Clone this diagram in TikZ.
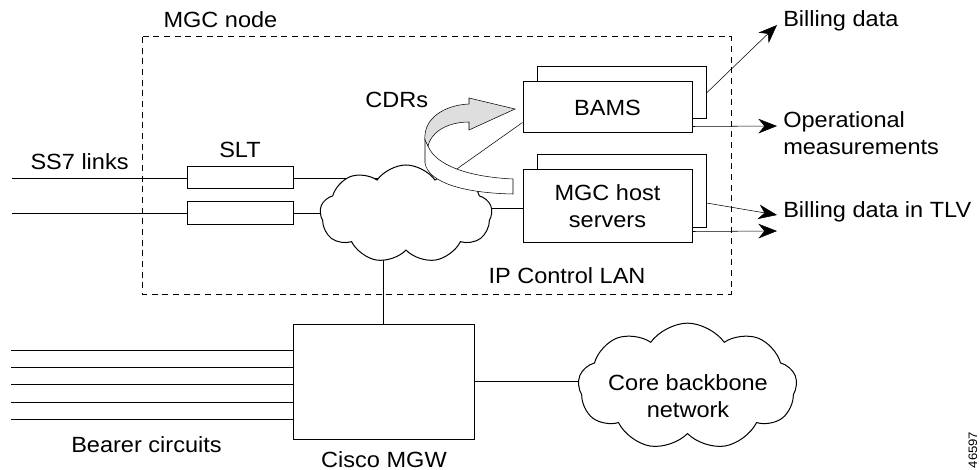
\documentclass[tikz,border=0pt]{standalone}
\usepackage{fontspec}
\setmainfont{Liberation Sans}[FakeStretch=1.07]
\usetikzlibrary{shapes.symbols,arrows.meta}
\pgfdeclarelayer{background}
\pgfsetlayers{background,main}
\begin{document}
\begin{tikzpicture}[x=0.75pt,y=-0.75pt,
  font=\fontsize{16.5}{20.25}\selectfont,
  line width=0.75pt,
  box/.style={draw,fill=white,inner sep=0pt,minimum width=126.75pt},
  sltbox/.style={draw,fill=white,inner sep=0pt,minimum width=79.5pt,minimum height=16.5pt},
  netcloud/.style={draw,fill=white,cloud,cloud puffs=9,cloud puff arc=110,inner sep=0pt},
  lbl/.style={inner sep=0pt},
  arr/.style={-{Stealth[length=14pt,width=11pt,inset=4.5pt]}},
  dashbox/.style={dash pattern=on 4.5pt off 3.5pt}]
\useasboundingbox (0,0) rectangle (980,470);

% MGC node boundary
\draw[dashbox] (142,37) rectangle (731,294);
\node[lbl,anchor=base west] (mgclbl) at (163,28) {MGC node};
\node[lbl,anchor=base west] (iplbl) at (488,283) {IP Control LAN};

% IP control LAN cloud
\node[netcloud,minimum width=129pt,minimum height=73.5pt] (ipc) at (406,214) {};

% SLT boxes
\node[sltbox] (slt1) at (240,178) {};
\node[sltbox] (slt2) at (240,213) {};
\node[lbl,anchor=base] (sltlbl) at (240,158) {SLT};
\coordinate (ss1) at (12,178);
\coordinate (ss2) at (12,213);
\node[lbl,anchor=base west] (sslbl) at (30,170) {SS7 links};

% BAMS and MGC host servers (stacked)
\node[box,minimum height=39pt] (bamsB) at (621.5,93) {};
\node[box,minimum height=38.25pt] (bamsF) at (607.5,107.5) {BAMS};
\node[box,minimum height=54pt] (mgcB) at (621.5,191) {};
\node[box,minimum height=54pt,align=center] (mgcF) at (607.5,206) {MGC host\\servers};

% Cisco MGW
\node[draw,fill=white,inner sep=0pt,minimum width=135.75pt,minimum height=86.25pt] (mgw) at (383.5,381.5) {};
\node[lbl,anchor=base] (mgwlbl) at (384,467) {Cisco MGW};

% Core backbone network
\node[netcloud,minimum width=164pt,minimum height=95pt] (core) at (687.5,386.5) {};
\node[lbl,align=center] (corelbl) at (688,396) {Core backbone\\network};

% connectors (behind the shapes)
\begin{pgfonlayer}{background}
  \draw (ss1) -- (slt1.west);
  \draw (ss2) -- (slt2.west);
  \draw (slt1.east) -- (slt1.east -| ipc.center);
  \draw (slt2.east) -- (slt2.east -| ipc.center);
  \draw ([yshift=8.25pt]bamsF.south west) -- ([yshift=6.75pt]ipc.center);
  \draw ([yshift=-1.5pt]mgcF.west) -- ([yshift=-1.5pt]mgcF.west -| ipc.center);
  \draw (mgw.north) -- (mgw.north |- ipc.center);
  \draw (mgw.east) -- (mgw.east -| core.center);
  \foreach \yy in {350,367,384,402,419}
    \draw (11,\yy) -- (mgw.west |- 11,\yy);
\end{pgfonlayer}

\node[lbl,anchor=base west] (bclbl) at (71,452) {Bearer circuits};

% CDR ribbon arrow
\node[lbl,anchor=base west] (cdrlbl) at (365,108) {CDRs};
\draw[fill=white,line join=round]
  (425,138) -- (425,163) .. controls (428,182) and (462,193) .. (513,194)
  -- (513,179) .. controls (470,177) and (436,166) .. (428,146) -- cycle;
\draw[fill=black!13,line join=miter]
  (425,140) .. controls (423,118) and (445,105) .. (469,104)
  -- (469,98) -- (515,109) -- (469,130) -- (469,122)
  .. controls (450,122) and (432,130) .. (428,146) -- cycle;

% outputs
\coordinate (o1) at (777,25);
\coordinate (o2) at (777,126);
\coordinate (o3) at (777,215);
\coordinate (o4) at (777,231);
\draw[arr] (bamsB.east) -- (o1);
\draw[arr] ([yshift=5.25pt]bamsF.south east) -- (o2);
\draw[arr] ([yshift=-9pt]mgcB.east) -- (o3);
\draw[arr] ([yshift=8.25pt]mgcF.south east) -- (o4);
\node[lbl,anchor=base west] (bdlbl) at (783,27) {Billing data};
\node[lbl,anchor=base west,align=left] (omlbl) at (783,155) {Operational\\measurements};
\node[lbl,anchor=base west] (tlvlbl) at (783,218) {Billing data in TLV};

\node[lbl,rotate=90,font=\fontsize{9.2}{11}\selectfont] (figno) at (973,450) {46597};
\end{tikzpicture}
\end{document}
